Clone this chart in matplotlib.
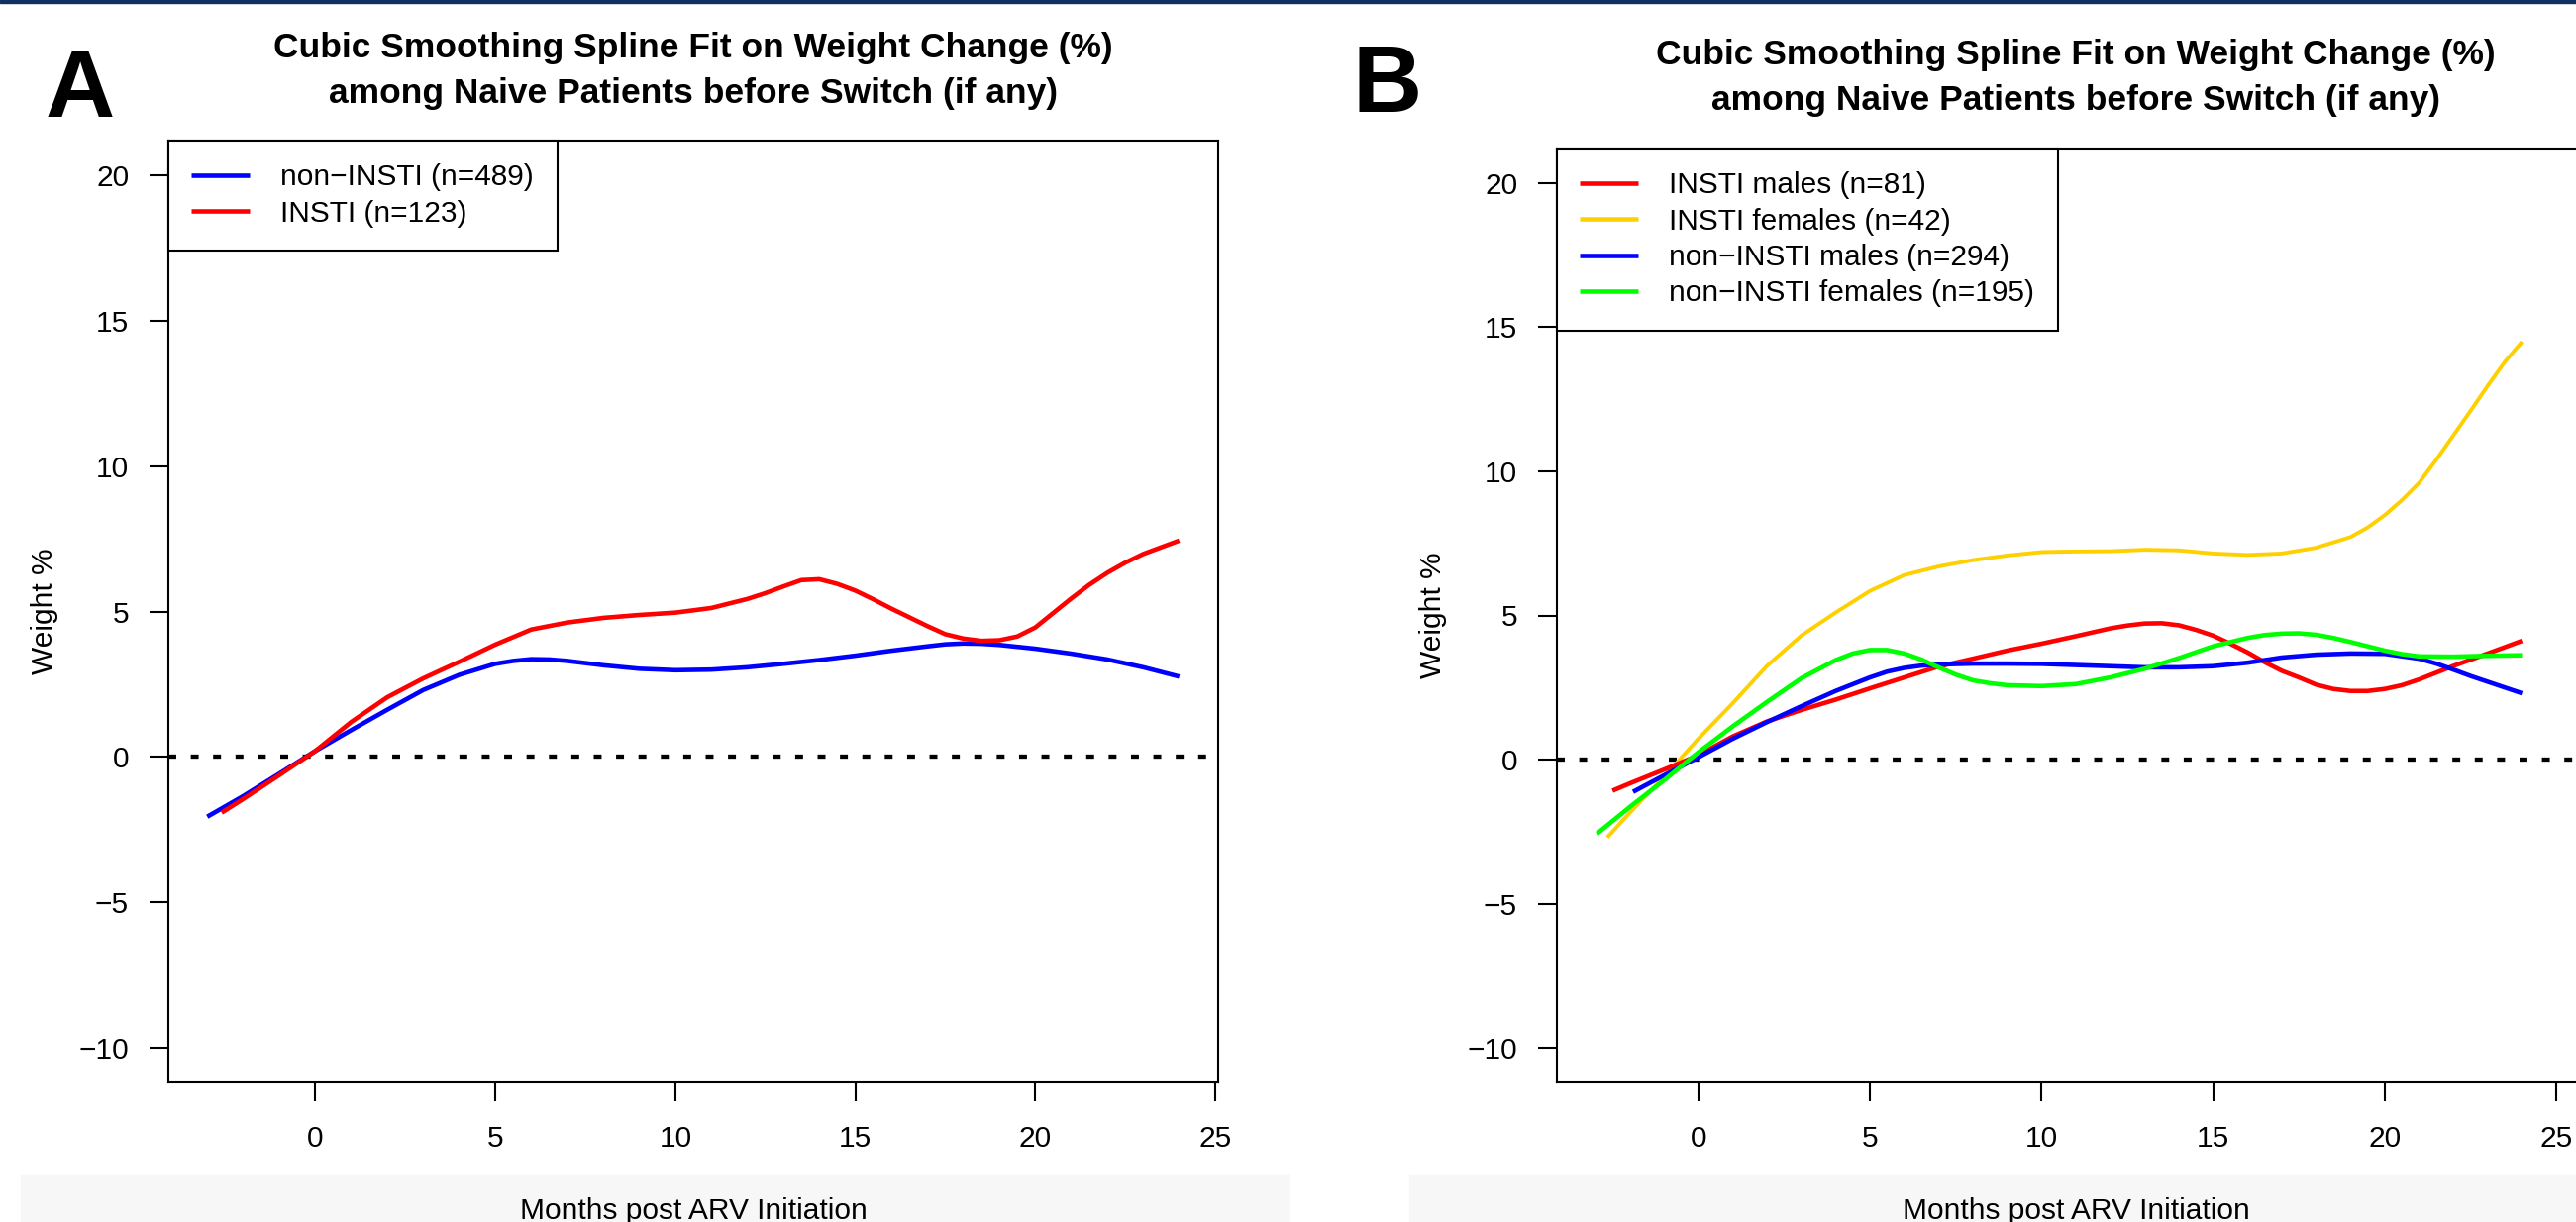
import matplotlib
matplotlib.use("Agg")
import matplotlib.pyplot as plt
from matplotlib.patches import Rectangle
from matplotlib.transforms import blended_transform_factory

plt.rcParams["font.family"] = ["Liberation Sans", "DejaVu Sans"]

W, H = 2601, 1234

TITLE = "Cubic Smoothing Spline Fit on Weight Change (%)\namong Naive Patients before Switch (if any)"
XLABEL = "Months post ARV Initiation"
YLABEL = "Weight %"
YTICKS = [-10, -5, 0, 5, 10, 15, 20]
XTICKS = [0, 5, 10, 15, 20, 25]

# panel A: overall groups
A_NON_X = [-3, -2, -1, 0, 1, 2, 3, 4, 5, 5.5, 6, 6.5, 7, 8, 9, 10, 11, 12, 13, 14,
           15, 16, 17, 17.5, 18, 18.5, 19, 20, 21, 22, 23, 24]
A_NON_Y = [-2.06, -1.35, -0.58, 0.2, 0.92, 1.62, 2.3, 2.82, 3.2, 3.3, 3.36, 3.35,
           3.3, 3.15, 3.03, 2.98, 3.0, 3.08, 3.2, 3.33, 3.48, 3.65, 3.8, 3.87,
           3.9, 3.89, 3.85, 3.72, 3.55, 3.35, 3.08, 2.76]
A_INSTI_X = [-2.6, -2, -1, 0, 1, 2, 3, 4, 5, 6, 7, 8, 9, 10, 11, 12, 12.5, 13,
             13.5, 14, 14.5, 15, 15.5, 16, 16.5, 17, 17.5, 18, 18.5, 19, 19.5, 20,
             20.5, 21, 21.5, 22, 22.5, 23, 24]
A_INSTI_Y = [-1.92, -1.45, -0.63, 0.2, 1.2, 2.05, 2.7, 3.27, 3.86, 4.38, 4.62, 4.78,
             4.88, 4.96, 5.12, 5.43, 5.63, 5.86, 6.08, 6.11, 5.95, 5.72, 5.42, 5.1,
             4.8, 4.5, 4.22, 4.07, 3.99, 4.01, 4.14, 4.45, 4.95, 5.45, 5.92, 6.33,
             6.68, 6.98, 7.44]

# panel B: by sex
B_IM_X = [-2.5, -2, -1, 0, 1, 2, 3, 4, 5, 6, 7, 8, 9, 10, 11, 12, 12.5, 13, 13.5,
          14, 14.5, 15, 15.5, 16, 16.5, 17, 17.5, 18, 18.5, 19, 19.5, 20, 20.5, 21,
          22, 23, 24]
B_IM_Y = [-1.08, -0.83, -0.35, 0.15, 0.8, 1.32, 1.72, 2.08, 2.47, 2.85, 3.23, 3.5,
          3.78, 4.02, 4.28, 4.55, 4.65, 4.72, 4.73, 4.66, 4.5, 4.3, 4.02, 3.72,
          3.38, 3.08, 2.85, 2.6, 2.45, 2.38, 2.38, 2.45, 2.58, 2.78, 3.25, 3.68,
          4.12]
B_IF_X = [-2.65, -2, -1, 0, 1, 2, 3, 4, 5, 6, 7, 8, 9, 10, 11, 12, 13, 14, 15, 16,
          17, 18, 19, 19.5, 20, 20.5, 21, 21.5, 22, 22.5, 23, 23.5, 24]
B_IF_Y = [-2.7, -1.85, -0.6, 0.72, 1.95, 3.25, 4.3, 5.1, 5.85, 6.4, 6.7, 6.92, 7.08,
          7.2, 7.22, 7.23, 7.28, 7.26, 7.15, 7.1, 7.15, 7.35, 7.72, 8.05, 8.48,
          9.0, 9.6, 10.4, 11.25, 12.1, 12.97, 13.8, 14.5]
B_NM_X = [-1.9, -1, 0, 1, 2, 3, 4, 5, 5.5, 6, 6.5, 7, 8, 9, 10, 11, 12, 13, 14, 15,
          16, 17, 18, 19, 20, 21, 21.5, 22, 22.5, 23, 24]
B_NM_Y = [-1.12, -0.55, 0.08, 0.72, 1.3, 1.85, 2.38, 2.85, 3.05, 3.18, 3.26, 3.3,
          3.33, 3.33, 3.32, 3.28, 3.24, 3.2, 3.2, 3.24, 3.36, 3.54, 3.64, 3.68,
          3.67, 3.5, 3.33, 3.12, 2.9, 2.7, 2.3]
B_NF_X = [-2.95, -2, -1, 0, 1, 2, 3, 4, 4.5, 5, 5.5, 6, 6.5, 7, 7.5, 8, 8.5, 9, 10,
          11, 12, 13, 14, 15, 16, 16.5, 17, 17.5, 18, 18.5, 19, 19.5, 20, 20.5,
          21, 22, 23, 24]
B_NF_Y = [-2.57, -1.65, -0.72, 0.25, 1.15, 2.0, 2.82, 3.45, 3.68, 3.8, 3.8, 3.68,
          3.47, 3.2, 2.95, 2.75, 2.65, 2.58, 2.55, 2.62, 2.85, 3.15, 3.52, 3.93,
          4.22, 4.32, 4.37, 4.38, 4.33, 4.22, 4.08, 3.93, 3.78, 3.66, 3.58, 3.57,
          3.6, 3.62]

A_SERIES = [
    ("non\u2212INSTI (n=489)", A_NON_X, A_NON_Y, "#0000FF", 3.3),
    ("INSTI (n=123)", A_INSTI_X, A_INSTI_Y, "#FF0000", 3.3),
]
B_SERIES = [
    ("INSTI males (n=81)", B_IM_X, B_IM_Y, "#FF0000", 3.3),
    ("INSTI females (n=42)", B_IF_X, B_IF_Y, "#FFD000", 2.8),
    ("non\u2212INSTI males (n=294)", B_NM_X, B_NM_Y, "#0000FF", 3.3),
    ("non\u2212INSTI females (n=195)", B_NF_X, B_NF_Y, "#00FF00", 3.3),
]

FS = 21.5


def box(l, t, r, b):
    """pixel box (left, top, right, bottom) -> figure fraction rect"""
    return [l / W, 1 - b / H, (r - l) / W, (b - t) / H]


def panel(fig, rect, xlim, series, draw_order, letter, letter_xy, title_y):
    ax = fig.add_axes(box(*rect))
    ax.set_xlim(*xlim)
    ax.set_ylim(-11.2, 21.2)
    ax.axhline(0, color="black", lw=3.1, linestyle=(0, (1.85, 3.4)), zorder=1)
    handles = {}
    for i in draw_order:
        lab, xs, ys, col, lw = series[i]
        h, = ax.plot(xs, ys, color=col, lw=lw, solid_capstyle="butt",
                     solid_joinstyle="round", label=lab, zorder=2)
        handles[i] = h
    leg = ax.legend([handles[i] for i in range(len(series))],
                    [s[0] for s in series], loc="upper left",
                    bbox_to_anchor=(0, 1), borderaxespad=0, fontsize=FS,
                    fancybox=False, framealpha=1, edgecolor="black",
                    borderpad=0.78, labelspacing=0.28, handlelength=1.95,
                    handletextpad=1.07)
    leg.get_frame().set_linewidth(1.5)
    for line in leg.get_lines():
        line.set_linewidth(3.3)
    ax.set_xticks(XTICKS)
    ax.set_yticks(YTICKS)
    ax.tick_params(axis="both", direction="out", length=13.7, width=1.5,
                   labelsize=FS)
    ax.tick_params(axis="y", pad=15)
    ax.tick_params(axis="x", pad=17)
    for s in ax.spines.values():
        s.set_linewidth(1.5)

    ax.text(-125 / (rect[2] - rect[0]), 0.5, YLABEL, rotation=90,
            ha="center", va="center", fontsize=FS, transform=ax.transAxes)
    tr = blended_transform_factory(ax.transAxes, fig.transFigure)
    ax.text(0.5, 1 - 1231 / H, XLABEL, ha="center", va="baseline",
            fontsize=FS, transform=tr)
    line1, line2 = TITLE.split("\n")
    ax.text(0.5, 1 - title_y[0] / H, line1, ha="center", va="baseline",
            fontsize=25.5, fontweight="bold", transform=tr)
    ax.text(0.5, 1 - title_y[1] / H, line2, ha="center", va="baseline",
            fontsize=25.5, fontweight="bold", transform=tr)
    fig.text(letter_xy[0] / W, 1 - letter_xy[1] / H, letter, fontsize=70,
             fontweight="bold", ha="left", va="baseline")
    return ax


fig = plt.figure(figsize=(W / 100, H / 100), dpi=100)

# background strips behind the x-axis labels and the thin top rule
fig.patches.append(Rectangle((21 / W, 0), (1302 - 21) / W, (H - 1187) / H,
                             transform=fig.transFigure, color="#F7F7F7", zorder=-1))
fig.patches.append(Rectangle((1423 / W, 0), (W - 1423) / W, (H - 1187) / H,
                             transform=fig.transFigure, color="#F7F7F7", zorder=-1))
fig.patches.append(Rectangle((0, 1 - 3 / H), 1, 3 / H, transform=fig.transFigure,
                             color="#10305F", zorder=-1))

panel(fig, (170, 142, 1230, 1093), (-4.08, 25.08), A_SERIES, [0, 1],
      "A", (46, 118), (58, 104))
panel(fig, (1572, 150, 2620, 1093), (-4.12, 26.12), B_SERIES, [1, 0, 2, 3],
      "B", (1366, 113), (65, 111))

fig.savefig("out.png", dpi=100)
